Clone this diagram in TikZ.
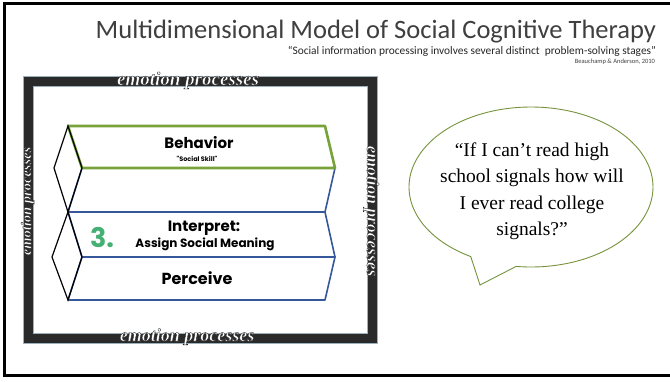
\documentclass[tikz,border=0pt]{standalone}
\usepackage{fontspec}
\setmainfont{Carlito}
\newfontfamily\boxfont{Poppins}
\newfontfamily\bubblefont{Liberation Serif}
\newfontfamily\emofont{Liberation Serif Bold Italic}
\definecolor{titlegray}{HTML}{3F3F3F}
\definecolor{stageblue}{HTML}{34589A}
\definecolor{stagegreen}{HTML}{77A33A}
\definecolor{numgreen}{HTML}{45B074}
\definecolor{bandcol}{HTML}{2A2A2A}
\definecolor{bandedge}{HTML}{9DB1BC}
\definecolor{bubblegreen}{HTML}{77933C}
\newcommand\outl[1]{\special{pdf:literal direct 2 Tr 0.35 w 0.12 0.12 0.12 RG}#1\special{pdf:literal direct 0 Tr}}
\tikzset{
  lbl/.style={inner sep=0pt, outer sep=0pt},
  emo/.style={lbl, text=white, font=\emofont\fontsize{#1}{#1}\selectfont},
  stagebox/.style={draw=stageblue, line width=1.6pt, line join=round},
  greenbox/.style={draw=stagegreen, line width=2.6pt, line join=round},
  diam/.style={draw=black, line width=1.2pt, line join=miter},
  stagetxt/.style={lbl, font=\boxfont\bfseries\fontsize{#1}{#1}\selectfont},
}
\begin{document}
\begin{tikzpicture}[x=1pt,y=-1pt]
\useasboundingbox (0,0) rectangle (670,381);
\fill[white] (0,0) rectangle (670,381);
% slide border (top, left, bottom)
\draw[line width=3pt] (670,3.5) -- (4.5,3.5) -- (4.5,375.5) -- (670,375.5);

% title block
\node[lbl, anchor=base east, text=titlegray, font=\fontsize{26.5}{30}\selectfont] (title) at (656,38) {Multidimensional Model of Social Cognitive Therapy};
\node[lbl, anchor=base east, text=black!85, font=\fontsize{11.4}{13}\selectfont] (sub) at (656,54) {“Social information processing involves several distinct\ \ problem-solving stages”};
\node[lbl, anchor=base east, text=black!75, font=\fontsize{6.5}{7}\selectfont] (cite) at (655,63) {Beauchamp \& Anderson, 2010};

% frame band
\fill[bandcol, even odd rule] (23,76) rectangle (377,343) (33,86) rectangle (367,333);
\draw[bandedge, line width=0.8pt] (23,76) rectangle (377,343);
\draw[bandedge, line width=0.6pt] (33,86) rectangle (367,333);

% stages
\draw[stagebox] (82,168) -- (335,168) -- (325,212) -- (68,212) -- cycle;
\draw[stagebox] (68,212) -- (325,212) -- (335,257) -- (82,257) -- cycle;
\draw[stagebox] (82,257) -- (335,257) -- (325,300) -- (68,300) -- cycle;
\draw[greenbox] (68,126) -- (325,126) -- (335,168) -- (82,168) -- cycle;
\draw[diam] (68,126) -- (82,168) -- (68,212) -- (54,168) -- cycle;
\draw[diam] (68,212) -- (82,257) -- (68,300) -- (52,257) -- cycle;

\node[stagetxt=15, anchor=base] (beh) at (199,148) {Behavior};
\node[stagetxt=6.5, anchor=base] (skill) at (197,161) {"Social Skill"};
\node[stagetxt=15, anchor=base] (interp) at (204,231) {Interpret:};
\node[stagetxt=27, anchor=base, text=numgreen] (three) at (102,247) {3.};
\node[stagetxt=12, anchor=base] (assign) at (205,247) {Assign Social Meaning};
\node[stagetxt=16, anchor=base] (perc) at (197,284) {Perceive};

% emotion processes labels
\node[emo=19, anchor=base] (emoT) at (188,85) {\outl{emotion processes}};
\node[emo=18, anchor=base] (emoB) at (187,341) {\outl{emotion processes}};
\node[emo=14.5, anchor=base, rotate=90] (emoL) at (31,201) {\outl{emotion processes}};
\node[emo=17.5, anchor=base, rotate=-90] (emoR) at (367,211) {\outl{emotion processes}};

% speech bubble
\draw[bubblegreen, line width=0.9pt, fill=white, line join=miter]
  plot[smooth, domain=119.6:457, samples=140] ({531+122*cos(\x)},{187+80*sin(\x)})
  -- (480,285) -- cycle;
\node[lbl, align=center, font=\bubblefont\fontsize{19.5}{26.5}\selectfont] (quote) at (532,191)
  {“If I can’t read high\\school signals how will\\I ever read college\\signals?”};
\end{tikzpicture}
\end{document}
